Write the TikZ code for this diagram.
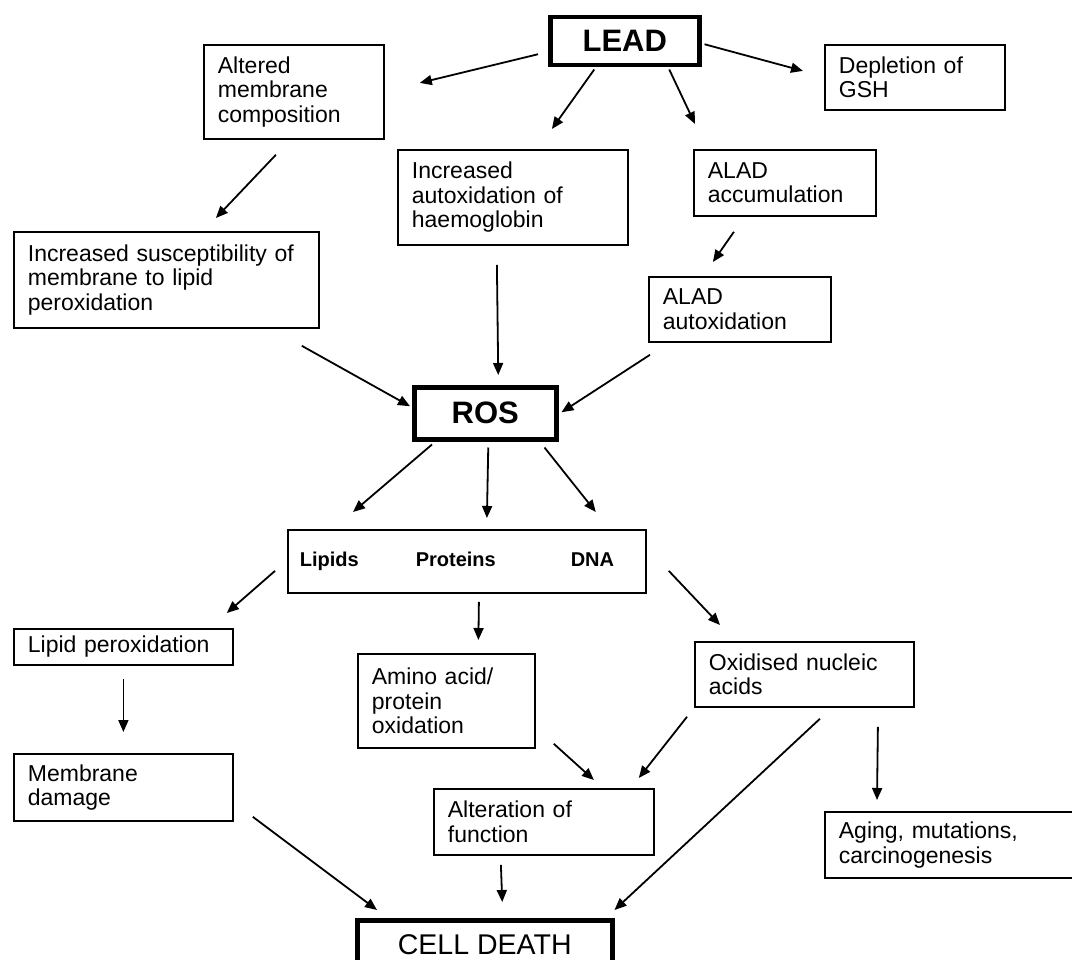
\documentclass[tikz,border=0pt]{standalone}
\usepackage{fontspec}
\setmainfont{Liberation Sans}
\usetikzlibrary{arrows.meta,calc}
\begin{document}
\begin{tikzpicture}[x=1pt,y=-1pt,
  box/.style={draw, line width=1.8pt, anchor=north west, align=left, inner xsep=14pt, inner ysep=0pt, font=\fontsize{23}{24.5}\selectfont},
  big/.style={draw, line width=4.5pt, anchor=north west, inner sep=0pt, align=center, font=\fontsize{31}{36}\selectfont\bfseries},
  arr/.style={line width=1.8pt, -{Triangle[length=12pt,width=10pt]}}]
\useasboundingbox (0,0) rectangle (1072,960);
\clip (0,0) rectangle (1072,960);
\fill[white] (0,0) rectangle (1072,960);
% thick boxes
\node[big, minimum width=149pt, minimum height=48pt] (lead) at (548,15) {LEAD};
\node[big, minimum width=142pt, minimum height=52pt] (ros) at (412,385) {ROS};
\node[big, minimum width=255pt, minimum height=48pt, font=\fontsize{28.5}{32}\selectfont] (cell) at (355,918) {CELL DEATH};
% boxes
\node[box, text width=152pt, minimum height=94pt] (alt) at (203,44) {Altered\\membrane\\composition};
\node[box, text width=152pt, minimum height=65pt] (gsh) at (824,44) {Depletion of\\GSH};
\node[box, text width=202pt, minimum height=95pt] (hae) at (397,149) {Increased\\autoxidation of\\haemoglobin};
\node[box, text width=154pt, minimum height=66pt] (alac) at (693,149) {ALAD\\accumulation};
\node[box, text width=277pt, minimum height=96pt] (sus) at (13,231) {Increased susceptibility of\\membrane to lipid\\peroxidation};
\node[box, text width=154pt, minimum height=65pt] (alao) at (648,276) {ALAD\\autoxidation};
\node[box, inner xsep=12pt, text width=334pt, minimum height=63pt, font=\fontsize{20}{24}\selectfont\bfseries] (lpd) at (287,529) {Lipids\hspace{57pt}Proteins\hspace{75pt}DNA};
\node[box, text width=191pt, minimum height=36pt] (lperox) at (13,628) {Lipid peroxidation};
\node[box, text width=149pt, minimum height=94pt] (amino) at (357,653) {Amino acid/\\protein\\oxidation};
\node[box, text width=191pt, minimum height=65pt] (oxn) at (694,641) {Oxidised nucleic\\acids};
\node[box, text width=191pt, minimum height=67pt] (memd) at (13,753) {Membrane\\damage};
\node[box, text width=192pt, minimum height=66pt] (alter) at (433,788) {Alteration of\\function};
\node[box, text width=232pt, minimum height=66pt] (aging) at (824,811) {Aging, mutations,\\carcinogenesis};
% arrows
\draw[arr] ($(lead.west)+(-10,13)$) -- ($(alt.east)+(35,-9)$);
\draw[arr] ($(lead.south)+(-30.5,2)$) -- ($(hae.north)+(39,-20)$);
\draw[arr] ($(lead.south)+(44.5,2)$) -- ($(alac.north west)+(2,-25)$);
\draw[arr] ($(lead.east)+(3,3)$) -- ($(gsh.west)+(-21,-6.5)$);
\draw[arr] ($(alt.south)+(-18,15)$) -- ($(sus.north)+(49.5,-13)$);
\draw[arr] ($(alac.south)+(-51,15)$) -- ($(alao.north)+(-27,-14)$);
\draw[arr] ($(sus.south east)+(-18,17)$) -- ($(ros.west)+(-2,-7)$);
\draw[arr] ($(hae.south)+(-16,19)$) -- ($(ros.north)+(13,-10)$);
\draw[arr] ($(alao.south west)+(2,12)$) -- ($(ros.east)+(3,-1)$);
\draw[arr] ($(ros.south west)+(20,3)$) -- ($(lpd.north west)+(66,-17)$);
\draw[arr] ($(ros.south)+(3,6)$) -- ($(lpd.north)+(20,-11)$);
\draw[arr] ($(ros.south east)+(-14,6)$) -- ($(lpd.north east)+(-51,-17)$);
\draw[arr] ($(lpd.west)+(-12,9.5)$) -- ($(lperox.north east)+(-7,-15)$);
\draw[arr] ($(lpd.south)+(12,8)$) -- ($(amino.north)+(32,-13)$);
\draw[arr] ($(lpd.east)+(22,9.5)$) -- ($(oxn.north west)+(26,-16)$);
\draw[arr] ($(lperox.south)+(0,13)$) -- ($(memd.north)+(0,-21)$);
\draw[arr] ($(amino.south east)+(18,-5)$) -- ($(alter.north)+(50,-8)$);
\draw[arr] ($(oxn.south west)+(-7,9)$) -- ($(alter.north east)+(-16,-10)$);
\draw[arr] ($(oxn.south)+(15.5,11)$) -- ($(cell.north east)+(0,-8)$);
\draw[arr] ($(oxn.south)+(73.5,19)$) -- ($(aging.north west)+(53,-11)$);
\draw[arr] ($(memd.south east)+(19,-5)$) -- ($(cell.north west)+(22,-8)$);
\draw[arr] ($(alter.south)+(-43,9)$) -- ($(cell.north)+(17.5,-16)$);
\end{tikzpicture}
\end{document}
